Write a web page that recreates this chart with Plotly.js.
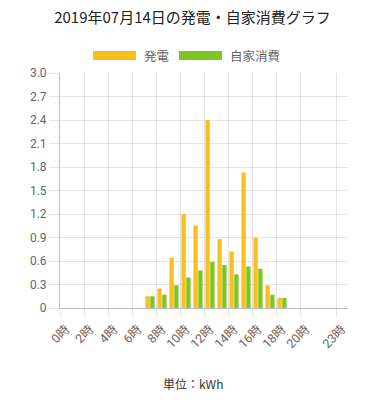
<!DOCTYPE html>
<html>
<head>
<meta charset="utf-8">
<script src="https://cdn.plot.ly/plotly-3.0.1.min.js"></script>
<style>html,body{margin:0;padding:0;background:#fff;}#chart{width:385px;height:400px;}</style>
</head>
<body>
<div id="chart"></div>
<script>
// Hours of the day
const hours = [0,1,2,3,4,5,6,7,8,9,10,11,12,13,14,15,16,17,18,19,20,21,22,23];
// 発電 (generation), kWh
const generation = [0,0,0,0,0,0,0,0.15,0.25,0.64,1.2,1.05,2.4,0.88,0.72,1.73,0.9,0.29,0.13,0,0,0,0,0];
// 自家消費 (self consumption), kWh
const selfUse = [0,0,0,0,0,0,0,0.15,0.17,0.29,0.39,0.48,0.59,0.55,0.43,0.53,0.5,0.17,0.13,0,0,0,0,0];
// Labelled hours on the x axis
const labelHours = [0,2,4,6,8,10,12,14,16,18,20,23];
const labelText = labelHours.map(h => h + '時');
// y ticks
const yTicks = [0,0.3,0.6,0.9,1.2,1.5,1.8,2.1,2.4,2.7,3.0];
const yTickText = ['0','0.3','0.6','0.9','1.2','1.5','1.8','2.1','2.4','2.7','3.0'];
const seriesNames = ['発電','自家消費'];
const colors = ['#FBBF1D','#7EC623'];

const grid = 'rgba(0,0,0,0.1)';
const jp = "Roboto, 'Noto Sans CJK JP', sans-serif";
const cjk = "'Noto Sans CJK JP', sans-serif";

// plot area in pixels (for converting legend layout to paper coords)
const L = 60, T = 73, W = 288, H = 235;
const px = v => (v - L) / W;
const py = v => (T + H - v) / H;

const traces = [
  {type:'bar', x:hours, y:generation, name:seriesNames[0], marker:{color:colors[0]}, showlegend:false, hoverinfo:'skip'},
  {type:'bar', x:hours, y:selfUse, name:seriesNames[1], marker:{color:colors[1]}, showlegend:false, hoverinfo:'skip'},
  {type:'scatter', mode:'lines', x:[], y:[], xaxis:'x2', showlegend:false, hoverinfo:'skip'}
];

// legend drawn in the Chart.js style: 40px wide boxes followed by labels
const legendBoxes = [[93,136],[179,222]];
const legendShapes = legendBoxes.map((b,i) => ({type:'rect', xref:'paper', yref:'paper', x0:px(b[0]), x1:px(b[1]), y0:py(60), y1:py(51), fillcolor:colors[i], line:{width:0}}));
const legendLabels = legendBoxes.map((b,i) => ({text:seriesNames[i], xref:'paper', yref:'paper', x:px(b[1]+6), y:py(55.5), xanchor:'left', yanchor:'middle', showarrow:false, font:{family:cjk, size:12.5, color:'#666'}}));

const layout = {
  width:385, height:400,
  margin:{l:L, r:385-L-W, t:T, b:400-T-H},
  paper_bgcolor:'#fff', plot_bgcolor:'#fff',
  font:{family:jp, size:12, color:'#666'},
  title:{text:'2019年07月14日の発電・自家消費グラフ', font:{family:cjk, size:15, color:'#222'}, x:0.5, xref:'container', y:1-18/400, yref:'container', yanchor:'middle'},
  barmode:'group', bargap:0.2, bargroupgap:0.1,
  showlegend:false,
  xaxis:{type:'linear', range:[-0.5,23.5], tickmode:'array', tickvals:labelHours, ticktext:labelText, tickangle:-45, showgrid:false, zeroline:false, showline:true, linecolor:'rgba(0,0,0,0.25)', ticks:'outside', ticklen:8, tickcolor:'rgba(0,0,0,0)', tickfont:{family:jp, size:12.5, color:'#666'}, fixedrange:true},
  xaxis2:{type:'linear', overlaying:'x', anchor:'y', side:'bottom', range:[-0.5,23.5], tickmode:'array', tickvals:labelHours.map(h => h-0.5), showticklabels:false, showgrid:true, gridcolor:grid, ticks:'outside', ticklen:8, tickcolor:grid, zeroline:false, showline:false},
  yaxis:{range:[0,3], tickmode:'array', tickvals:yTicks, ticktext:yTickText, showgrid:true, gridcolor:grid, zeroline:false, showline:true, linecolor:'rgba(0,0,0,0.25)', ticks:'outside', ticklen:10, tickcolor:grid, tickfont:{family:jp, size:12, color:'#666'}},
  shapes:legendShapes,
  annotations:legendLabels.concat([{text:'単位：kWh', xref:'paper', yref:'paper', x:px(192.5), y:py(383), xanchor:'center', yanchor:'middle', showarrow:false, font:{family:cjk, size:12, color:'#333'}}])
};

Plotly.newPlot('chart', traces, layout, {staticPlot:true, displayModeBar:false});
</script>
</body>
</html>
